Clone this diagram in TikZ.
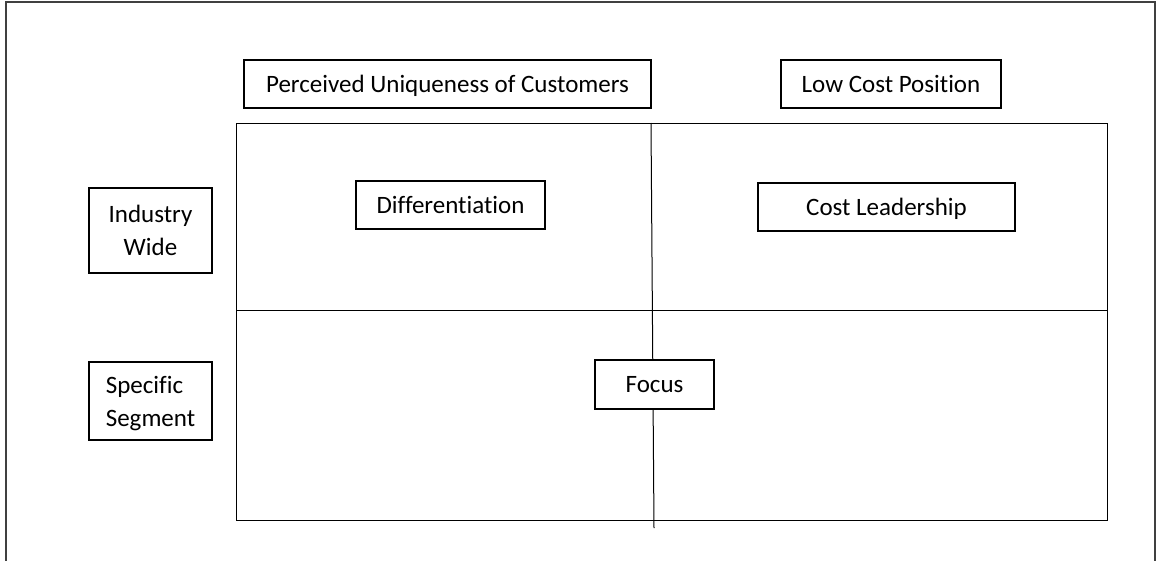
\documentclass[tikz,border=0pt]{standalone}
\usepackage{fontspec}
\setmainfont{Carlito}[Ligatures=NoCommon]
\usetikzlibrary{positioning}
\newcommand{\boxfont}{\fontsize{25}{33}\selectfont}

\begin{document}
\begin{tikzpicture}[
        x=1pt, y=-1pt,
        box/.style={rectangle, draw, line width=1.3pt, fill=white,
                    align=center, inner sep=0pt, text depth=0pt, font=\boxfont},
        grid/.style={line width=1pt},
    ]
        \useasboundingbox (0,0) rectangle (1160,560);
        % outer frame, open at the bottom
        \draw[line width=1.3pt, black!75] (6,575) |- (1155,2) -- (1155,575);

        % the four cells
        \coordinate (nw) at (236,123);
        \coordinate (se) at (1107,520);
        \coordinate (midw) at (236,310);
        \coordinate (mide) at (1107,310);
        \coordinate (vtop) at (651,123);
        \coordinate (vbot) at (654,528);
        \draw[grid] (nw) rectangle (se);
        \draw[grid] (midw) -- (mide);
        \draw[grid] (vtop) -- (vbot);

        \node[box, minimum width=407, minimum height=48] (unique) at (447.5,84) {Perceived Uniqueness of Customers};
        \node[box, minimum width=220, minimum height=48] (lowcost) at (891,84) {Low Cost Position};
        \node[box, minimum width=123, minimum height=85] (industry) at (150.5,230.5) {Industry\\Wide};
        \node[box, minimum width=123, minimum height=78, align=left] (segment) at (150.5,401) {Specific\\Segment};
        \node[box, minimum width=189, minimum height=48] (diff) at (450.5,205) {Differentiation};
        \node[box, minimum width=257, minimum height=48] (costlead) at (886.5,207) {Cost Leadership};
        \node[box, minimum width=119, minimum height=49] (focus) at (654.5,384.5) {Focus};
    \end{tikzpicture}
\end{document}
